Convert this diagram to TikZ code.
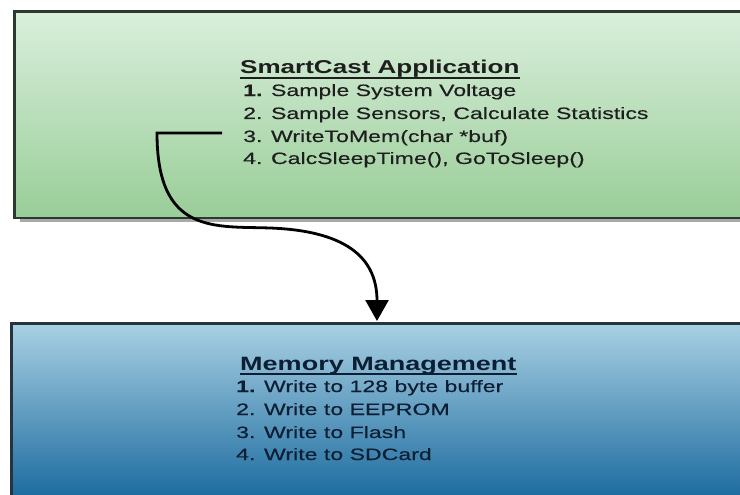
\documentclass[tikz,border=0pt]{standalone}
\usepackage{fontspec}
\setmainfont[FakeStretch=1.4]{Liberation Sans}
\newfontfamily\itemfont[FakeStretch=1.4, FakeBold=0.35]{Liberation Sans}
\usetikzlibrary{arrows.meta}
\definecolor{gtop}{HTML}{DAEFDC}
\definecolor{gbot}{HTML}{99CD98}
\definecolor{btop}{HTML}{A9D0E3}
\definecolor{bbot}{HTML}{1A6A9E}
\definecolor{gborder}{HTML}{2B3A2E}
\definecolor{bborder}{HTML}{26343F}
\definecolor{gtext}{HTML}{1E1E1E}
\definecolor{btext}{HTML}{0C1E33}
\definecolor{shadowgray}{HTML}{A9A9A9}
\begin{document}
\begin{tikzpicture}[x=1pt,y=1pt,
  item/.style={anchor=base west, inner sep=0pt, font=\itemfont\fontsize{16.5}{18}\selectfont},
  ttl/.style={anchor=base west, inner sep=0pt, font=\bfseries\fontsize{18.6}{20}\selectfont},
  panel/.style={draw, line width=2.6pt, anchor=north west, inner sep=0pt, minimum width=760pt},
  uline/.style={line width=1.4pt},
  link/.style={line width=2.8pt, -{Triangle[width=23pt,length=21pt]}}]
\useasboundingbox (0,0) rectangle (740,-495);
\clip (0,0) rectangle (740,-495);
% top panel with shadow
\fill[shadowgray] (20,-16) rectangle (780,-222);
\node[panel, draw=gborder, top color=gtop, bottom color=gbot, minimum height=206.4pt] (app) at (13.3,-10.3) {};
% bottom panel
\node[panel, draw=bborder, top color=btop, bottom color=bbot, minimum height=176pt] (mem) at (10.3,-322.3) {};
% texts, top
\begin{scope}[text=gtext]
\node[ttl] (t1) at (240,-74) {SmartCast Application};
\draw[uline, gtext] ([yshift=-4pt]t1.base west) -- ([yshift=-4pt]t1.base east);
\node[item] (a1) at (243,-96) {\textbf{1.} Sample System Voltage};
\node[item] (a2) at (243,-119) {2. Sample Sensors, Calculate Statistics};
\node[item] (a3) at (243,-142) {3. WriteToMem(char *buf)};
\node[item] (a4) at (243,-164) {4. CalcSleepTime(), GoToSleep()};
\end{scope}
% texts, bottom
\begin{scope}[text=btext]
\node[ttl, font=\bfseries\fontsize{19.3}{21}\selectfont] (t2) at (240,-370) {Memory Management};
\draw[uline, btext] ([yshift=-4pt]t2.base west) -- ([yshift=-4pt]t2.base east);
\node[item] (b1) at (236,-392) {\textbf{1.} Write to 128 byte buffer};
\node[item] (b2) at (236,-415) {2. Write to EEPROM};
\node[item] (b3) at (236,-438) {3. Write to Flash};
\node[item] (b4) at (236,-460) {4. Write to SDCard};
\end{scope}
% connector
\coordinate (c0) at (222,-133);
\coordinate (tip) at (377,-321);
\draw[link] (c0) -- (157,-133) .. controls (157,-235) and (215,-226) .. (270,-228) .. controls (352,-231) and (377,-262) .. (tip);
\end{tikzpicture}
\end{document}
